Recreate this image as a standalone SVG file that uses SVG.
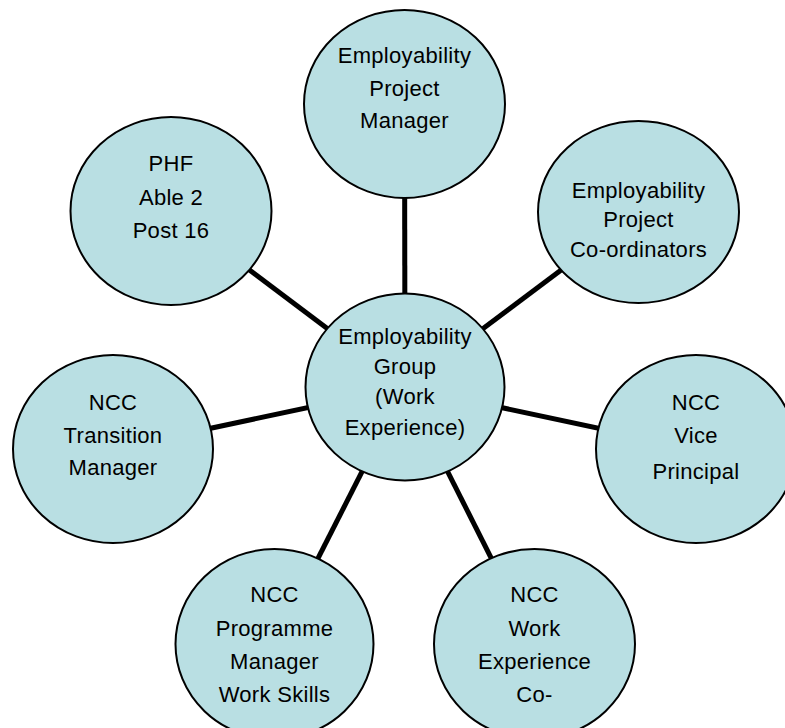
<svg xmlns="http://www.w3.org/2000/svg" width="785" height="728" viewBox="0 0 785 728">
  <style>
    .node { fill: #B9DFE3; stroke: #000; stroke-width: 2; }
    .link { stroke: #000; stroke-width: 5; }
    .label { font-family: "Liberation Sans", Arial, sans-serif; font-size: 22px; letter-spacing: 0.3px; fill: #000; text-anchor: middle; }
  </style>
  <rect width="785" height="728" fill="#fff"/>

  <!-- spokes from the hub to each role -->
  <g id="connectors">
    <line class="link" x1="405" y1="387" x2="404.5" y2="104"/>
    <line class="link" x1="405" y1="387" x2="171" y2="211"/>
    <line class="link" x1="405" y1="387" x2="638.5" y2="212"/>
    <line class="link" x1="405" y1="387" x2="113" y2="449"/>
    <line class="link" x1="405" y1="387" x2="696" y2="449"/>
    <line class="link" x1="405" y1="387" x2="274.5" y2="644"/>
    <line class="link" x1="405" y1="387" x2="534.5" y2="644"/>
  </g>

  <g id="project-manager">
    <ellipse class="node" cx="404.5" cy="104" rx="100.5" ry="94"/>
    <text class="label" x="404.5" y="63">Employability</text>
    <text class="label" x="404.5" y="96">Project</text>
    <text class="label" x="404.5" y="128">Manager</text>
  </g>

  <g id="phf">
    <ellipse class="node" cx="171" cy="211" rx="100.5" ry="94"/>
    <text class="label" x="171" y="171">PHF</text>
    <text class="label" x="171" y="205">Able 2</text>
    <text class="label" x="171" y="238">Post 16</text>
  </g>

  <g id="project-coordinators">
    <ellipse class="node" cx="638.5" cy="212" rx="100.5" ry="91"/>
    <text class="label" x="638.5" y="198">Employability</text>
    <text class="label" x="638.5" y="227">Project</text>
    <text class="label" x="638.5" y="257">Co-ordinators</text>
  </g>

  <g id="employability-group">
    <ellipse class="node" cx="405" cy="387" rx="99.5" ry="93.5"/>
    <text class="label" x="405" y="344">Employability</text>
    <text class="label" x="405" y="374">Group</text>
    <text class="label" x="405" y="404">(Work</text>
    <text class="label" x="405" y="435">Experience)</text>
  </g>

  <g id="transition-manager">
    <ellipse class="node" cx="113" cy="449" rx="100" ry="94"/>
    <text class="label" x="113" y="410">NCC</text>
    <text class="label" x="113" y="443">Transition</text>
    <text class="label" x="113" y="475">Manager</text>
  </g>

  <g id="vice-principal">
    <ellipse class="node" cx="696" cy="449" rx="100" ry="94"/>
    <text class="label" x="696" y="410">NCC</text>
    <text class="label" x="696" y="443">Vice</text>
    <text class="label" x="696" y="479">Principal</text>
  </g>

  <g id="programme-manager">
    <ellipse class="node" cx="274.5" cy="644" rx="99" ry="95"/>
    <text class="label" x="274.5" y="602">NCC</text>
    <text class="label" x="274.5" y="636">Programme</text>
    <text class="label" x="274.5" y="669">Manager</text>
    <text class="label" x="274.5" y="702">Work Skills</text>
  </g>

  <g id="work-experience">
    <ellipse class="node" cx="534.5" cy="644" rx="100.5" ry="95"/>
    <text class="label" x="534.5" y="602">NCC</text>
    <text class="label" x="534.5" y="636">Work</text>
    <text class="label" x="534.5" y="669">Experience</text>
    <text class="label" x="534.5" y="702">Co-</text>
  </g>
</svg>
